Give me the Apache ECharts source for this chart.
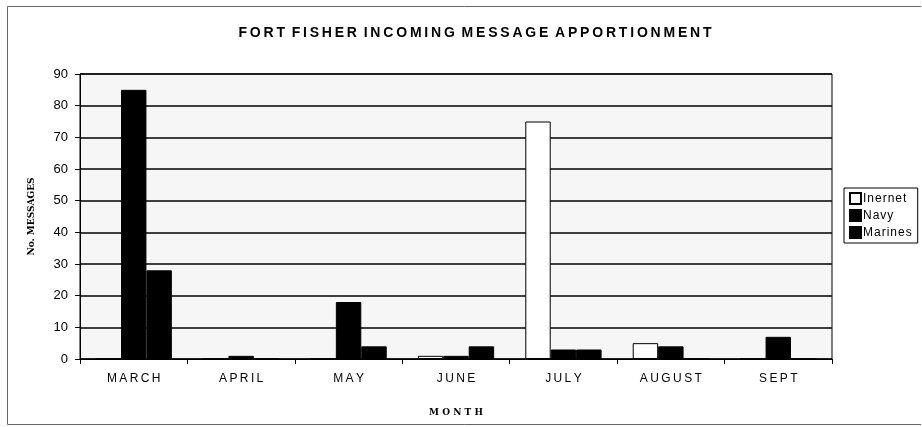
<!DOCTYPE html>
<html>
<head>
<meta charset="utf-8">
<script src="https://cdn.jsdelivr.net/npm/echarts@6/dist/echarts.min.js"></script>
<style>
  html, body { margin: 0; padding: 0; background: #fff; }
  #chart { width: 922px; height: 427px; }
</style>
</head>
<body>
<div id="chart"></div>
<script>
// months on the x axis
const months = ["MARCH", "APRIL", "MAY", "JUNE", "JULY", "AUGUST", "SEPT"];
// messages per month
const internet = [0, 0, 0, 1, 75, 5, 0];
const navy = [85, 1, 18, 1, 3, 4, 7];
const marines = [28, 0, 4, 4, 3, 0, 0];

const titleText = "FORT FISHER INCOMING MESSAGE APPORTIONMENT";

// no letterSpacing in echarts text, so pad with thin spaces
function spread(s, gap) {
  return s.split(" ").map(w => w.split("").join(gap)).join(" " + gap);
}

const chart = echarts.init(document.getElementById("chart"));

function barSeries(name, data, fill) {
  return {
    name: name,
    type: "bar",
    data: data,
    barGap: 0,
    barCategoryGap: "29%",
    itemStyle: { color: fill, borderColor: "#000", borderWidth: 1 },
    animation: false
  };
}

chart.setOption({
  backgroundColor: "#fff",
  title: {
    text: spread(titleText, "\u2009"),
    left: 470,
    top: 21,
    textAlign: "center",
    textStyle: { fontFamily: "Liberation Sans, Arial", fontSize: 14, fontWeight: "bold", color: "#000" }
  },
  legend: {
    orient: "vertical",
    left: 844,
    top: 188,
    itemWidth: 11,
    itemHeight: 11,
    itemGap: 4,
    padding: [4, 6, 4, 5],
    borderColor: "#000",
    borderWidth: 1,
    icon: "rect",
    textStyle: { fontFamily: "Liberation Sans, Arial", fontSize: 12, color: "#000", padding: [0, 0, 0, -3] },
    formatter: n => spread(n, "\u200a"),
    data: ["Inernet", "Navy", "Marines"]
  },
  grid: {
    left: 80,
    right: 90,
    top: 74,
    bottom: 68,
    show: true,
    backgroundColor: "#f6f6f6",
    borderColor: "#000",
    borderWidth: 1
  },
  graphic: [{
    type: "polyline",
    shape: { points: [[921, 6.5], [7.5, 6.5], [7.5, 424.5], [921, 424.5]] },
    style: { fill: null, stroke: "#666", lineWidth: 1 },
    silent: true
  }],
  xAxis: {
    type: "category",
    data: months,
    name: "M O N T H",
    nameLocation: "middle",
    nameGap: 49,
    nameTextStyle: { fontFamily: "DejaVu Serif", fontSize: 9, fontWeight: "bold", color: "#000" },
    axisLine: { lineStyle: { color: "#000", width: 1 } },
    axisTick: { show: true, length: 5, lineStyle: { color: "#000" } },
    axisLabel: { fontFamily: "Liberation Sans, Arial", fontSize: 12, color: "#000", margin: 14,
      formatter: v => spread(v, "\u2009") }
  },
  yAxis: {
    type: "value",
    min: 0,
    max: 90,
    interval: 10,
    name: "No. MESSAGES",
    nameLocation: "middle",
    nameGap: 44,
    nameTextStyle: { fontFamily: "DejaVu Serif", fontSize: 9, fontWeight: "bold", color: "#000" },
    axisLine: { show: true, lineStyle: { color: "#000", width: 1 } },
    axisTick: { show: true, length: 5, lineStyle: { color: "#000" } },
    axisLabel: { fontFamily: "Liberation Sans, Arial", fontSize: 13, color: "#000", margin: 12 },
    splitLine: { lineStyle: { color: "#000", width: 1.5 } }
  },
  series: [
    barSeries("Inernet", internet, "#fff"),
    barSeries("Navy", navy, "#000"),
    barSeries("Marines", marines, "#000")
  ]
});
</script>
</body>
</html>
